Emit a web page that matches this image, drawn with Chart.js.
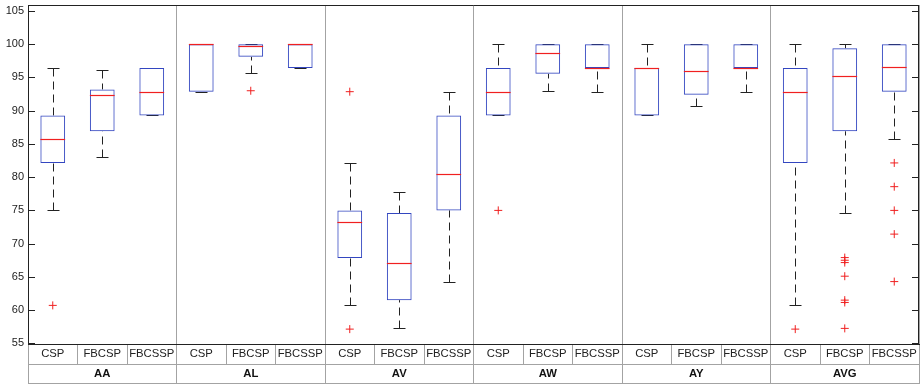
<!DOCTYPE html>
<html lang="en">
<head>
<meta charset="UTF-8">
<title>Accuracy box plot</title>
<script src="https://cdn.jsdelivr.net/npm/chart.js@4"></script>
<style>
  html, body { margin: 0; padding: 0; background: #fff; }
</style>
</head>
<body>
<canvas id="boxChart" width="924" height="386"></canvas>
<script>
// groups (subjects) and methods, one box per method per group
const groups = ['AA', 'AL', 'AV', 'AW', 'AY', 'AVG'];
const methods = ['CSP', 'FBCSP', 'FBCSSP'];
const boxLabels = groups.flatMap(() => methods);

// box statistics, in the same order as boxLabels
const whiskerLow  = [75.0, 83.0, 89.29,  92.86, 95.6, 96.43,  60.75, 57.25, 64.25,  89.29, 93.0, 92.86,  89.29, 90.7, 92.86,  60.75, 74.65, 85.8];
const q1          = [82.14, 86.9, 89.29,  92.86, 98.1, 96.43,  67.85, 61.5, 75.0,  89.29, 95.55, 96.43,  89.29, 92.4, 96.43,  82.14, 86.9, 92.86];
const median      = [85.71, 92.35, 92.86,  100, 99.8, 100,  73.25, 67.15, 80.4,  92.86, 98.65, 96.43,  96.43, 95.9, 96.43,  92.86, 95.15, 96.5];
const q3          = [89.29, 93.2, 96.43,  100, 100, 100,  75.0, 74.6, 89.29,  96.43, 100, 100,  96.43, 100, 100,  96.43, 99.4, 100];
const whiskerHigh = [96.43, 96.05, 96.43,  100, 100, 100,  82.15, 77.7, 92.86,  100, 100, 100,  100, 100, 100,  100, 100, 100];

// outliers: box index and value
const outlierBox = [0, 4, 6, 6, 9, 15, 16, 16, 16, 16, 16, 16, 16, 17, 17, 17, 17, 17];
const outlierVal = [60.71, 93.0, 92.86, 57.14, 75.0, 57.14, 67.9, 67.5, 67.15, 65.1, 61.5, 61.15, 57.25, 82.14, 78.57, 75.0, 71.43, 64.29];

// y axis ticks
const yTicks = [55, 60, 65, 70, 75, 80, 85, 90, 95, 100, 105];

const boxColor = '#3346c0';
const medianColor = '#f02020';
const sepColor = '#a3a3a3';

const boxParts = {
  id: 'boxParts',
  beforeDatasetsDraw(chart) {
    const { ctx, scales: { x, y } } = chart;
    ctx.save();
    ctx.strokeStyle = '#222';
    ctx.lineWidth = 1;
    for (let i = 0; i < boxLabels.length; i++) {
      const cx = Math.round(x.getPixelForValue(i)) + 0.5;
      const pLo = Math.round(y.getPixelForValue(whiskerLow[i])) + 0.5;
      const pQ1 = y.getPixelForValue(q1[i]);
      const pQ3 = y.getPixelForValue(q3[i]);
      const pHi = Math.round(y.getPixelForValue(whiskerHigh[i])) + 0.5;
      ctx.setLineDash([8, 5]);
      ctx.beginPath();
      if (whiskerHigh[i] > q3[i]) { ctx.moveTo(cx, pHi); ctx.lineTo(cx, pQ3); }
      if (whiskerLow[i] < q1[i]) { ctx.moveTo(cx, pLo); ctx.lineTo(cx, pQ1); }
      ctx.stroke();
      ctx.setLineDash([]);
      ctx.beginPath();
      ctx.moveTo(cx - 6, pHi); ctx.lineTo(cx + 6, pHi);
      ctx.moveTo(cx - 6, pLo); ctx.lineTo(cx + 6, pLo);
      ctx.stroke();
    }
    ctx.restore();
  },
  afterDatasetsDraw(chart) {
    const { ctx, scales: { y } } = chart;
    const bars = chart.getDatasetMeta(0).data;
    ctx.save();
    ctx.strokeStyle = medianColor;
    ctx.lineWidth = 1.2;
    for (let i = 0; i < boxLabels.length; i++) {
      const half = bars[i].width / 2;
      const cx = bars[i].x;
      const py = Math.round(y.getPixelForValue(median[i])) + 0.5;
      ctx.beginPath();
      ctx.moveTo(cx - half, py); ctx.lineTo(cx + half, py);
      ctx.stroke();
    }
    ctx.restore();
  },
  afterDraw(chart) {
    const { ctx, chartArea: a, scales: { y, x2 } } = chart;
    ctx.save();
    // frame top and right
    ctx.strokeStyle = '#222';
    ctx.lineWidth = 1;
    ctx.beginPath();
    ctx.moveTo(a.left, a.top + 0.5); ctx.lineTo(a.right, a.top + 0.5);
    ctx.moveTo(a.right - 0.5, a.top); ctx.lineTo(a.right - 0.5, a.bottom);
    // inward tick marks on both sides
    yTicks.forEach(v => {
      const py = Math.round(y.getPixelForValue(v)) + 0.5;
      ctx.moveTo(a.left, py); ctx.lineTo(a.left + 7, py);
      ctx.moveTo(a.right, py); ctx.lineTo(a.right - 7, py);
    });
    ctx.stroke();
    // bottom line of the label table
    ctx.strokeStyle = sepColor;
    ctx.beginPath();
    ctx.moveTo(x2.left, x2.bottom - 0.5); ctx.lineTo(x2.right, x2.bottom - 0.5);
    ctx.stroke();
    ctx.restore();
  }
};

new Chart(document.getElementById('boxChart'), {
  type: 'bar',
  data: {
    labels: boxLabels,
    datasets: [
      {
        type: 'bar',
        data: q1.map((v, i) => [v, q3[i]]),
        backgroundColor: 'rgba(255,255,255,0)',
        borderColor: boxColor,
        borderWidth: 1,
        borderSkipped: false,
        grouped: false,
        barPercentage: 0.5,
        categoryPercentage: 1,
        xAxisID: 'x',
        yAxisID: 'y'
      },
      {
        type: 'scatter',
        data: outlierBox.map((b, i) => ({ x: b, y: outlierVal[i] })),
        pointStyle: 'cross',
        radius: 4,
        borderColor: medianColor,
        borderWidth: 1,
        xAxisID: 'xl',
        yAxisID: 'y'
      }
    ]
  },
  options: {
    responsive: false,
    animation: false,
    layout: { padding: { top: 4, right: 4, bottom: 2, left: 0 } },
    plugins: { legend: { display: false }, tooltip: { enabled: false } },
    scales: {
      y: {
        min: 54.9,
        max: 105.9,
        afterBuildTicks: s => { s.ticks = yTicks.map(v => ({ value: v })); },
        afterFit: s => { s.width = 28; s.paddingTop = 0; s.paddingBottom = 0; },
        grid: { display: false, drawTicks: false, tickLength: 0 },
        border: { display: true, color: '#222', width: 1 },
        ticks: { padding: 4, color: '#222', font: { family: 'Liberation Sans', size: 11 } }
      },
      x: {
        type: 'category',
        position: 'bottom',
        weight: 0,
        offset: true,
        afterFit: s => { s.height = 20; },
        grid: { offset: true, drawOnChartArea: false, tickLength: 20, color: sepColor },
        border: { display: true, color: '#222', width: 1 },
        ticks: { autoSkip: false, maxRotation: 0, padding: -17, color: '#222',
                 font: { family: 'Liberation Sans', size: 11.3 } }
      },
      x2: {
        type: 'category',
        labels: groups,
        position: 'bottom',
        weight: 1,
        offset: true,
        afterFit: s => { s.height = 20; },
        grid: { offset: true, drawOnChartArea: true, tickLength: 20, color: sepColor },
        border: { display: true, color: sepColor, width: 1 },
        ticks: { autoSkip: false, maxRotation: 0, padding: -17, color: '#111',
                 font: { family: 'Liberation Sans', size: 11.3, weight: 'bold' } }
      },
      xl: {
        type: 'linear',
        display: false,
        offset: false,
        min: -0.5,
        max: boxLabels.length - 0.5
      }
    }
  },
  plugins: [boxParts]
});
</script>
</body>
</html>
